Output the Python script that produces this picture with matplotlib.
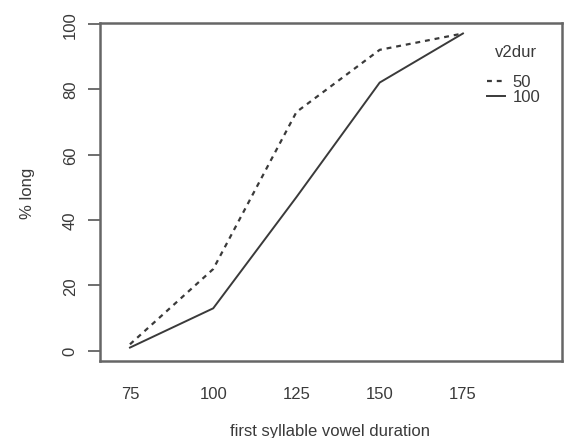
import matplotlib
matplotlib.use('Agg')
import matplotlib.pyplot as plt
import numpy as np

plt.rcParams['font.family'] = ['Liberation Sans', 'DejaVu Sans']

# interaction plot: % long responses by first syllable vowel duration
durations = ['75', '100', '125', '150', '175']
v2dur_levels = ['50', '100']
pct_long_50 = [2, 25, 73, 92, 97]
pct_long_100 = [1, 13, 47, 82, 97]


def main():
    fig = plt.figure(figsize=(5.64, 4.39), dpi=100)
    ax = fig.add_axes([100 / 564, 77 / 439, 462 / 564, 338 / 439])

    col = '#3a3a3a'
    fs = 12
    pos = np.arange(1, len(durations) + 1)
    ax.plot(pos, pct_long_50, ls=(0, (2.2, 2.2)), color=col, lw=1.6, label=v2dur_levels[0])
    ax.plot(pos, pct_long_100, ls='-', color=col, lw=1.4, label=v2dur_levels[1])

    ax.set_xlim(0.64, 6.19)
    ax.set_ylim(-3.1, 100.2)

    ax.set_xticks(pos)
    ax.set_xticklabels(durations)
    ax.tick_params(axis='x', length=0, pad=18, labelsize=fs, labelcolor=col)
    ax.set_yticks([0, 20, 40, 60, 80, 100])
    ax.tick_params(axis='y', length=9, width=1.2, color='#555555', pad=7,
                   labelsize=fs, labelcolor=col)
    for lbl in ax.get_yticklabels():
        lbl.set_rotation(90)
        lbl.set_va('center')

    for sp in ax.spines.values():
        sp.set_color('#666666')
        sp.set_linewidth(1.8)

    ax.set_xlabel('first syllable vowel duration', fontsize=fs, color=col)
    ax.xaxis.set_label_coords(0.497, -0.183)
    ax.set_ylabel('% long', fontsize=fs, color=col)
    ax.yaxis.set_label_coords(-0.14, 0.5)

    ax.text(0.9, 0.917, 'v2dur', transform=ax.transAxes, ha='center', va='center',
            fontsize=fs, color=col)
    ax.legend(loc='upper left', bbox_to_anchor=(0.838, 0.848), frameon=False,
              handlelength=1.1, handletextpad=0.42, labelspacing=0.0,
              borderpad=0, borderaxespad=0, fontsize=fs, labelcolor=col)

    fig.savefig('out.png', dpi=100)
    return


if __name__ == "__main__":
    main()
